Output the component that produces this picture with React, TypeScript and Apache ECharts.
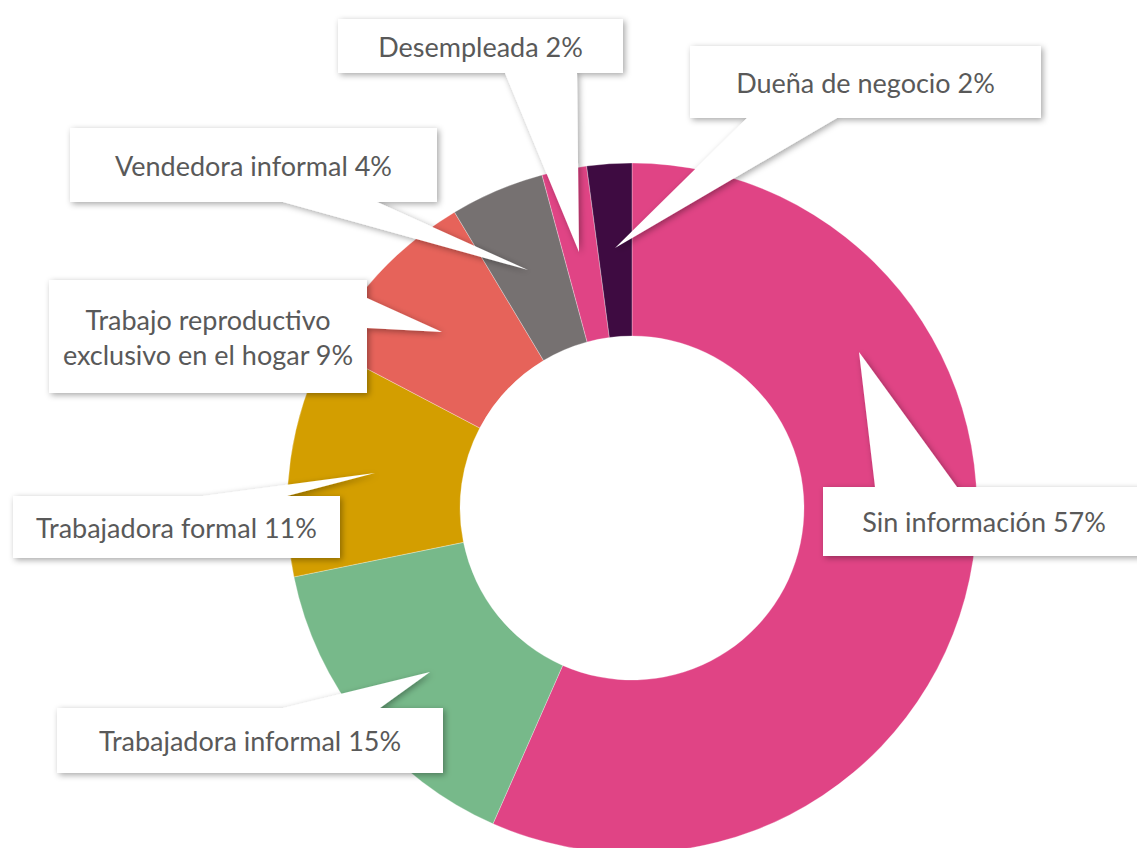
import React, { useEffect, useRef } from "react";
import * as echarts from "echarts";

// ---- data ----
const categories = [
  "Sin información",
  "Trabajadora informal",
  "Trabajadora formal",
  "Trabajo reproductivo exclusivo en el hogar",
  "Vendedora informal",
  "Desempleada",
  "Dueña de negocio",
];
const values = [56.6, 15.2, 10.9, 8.7, 4.4, 2.1, 2.1];
const colors = ["#E04485", "#77B98A", "#D39E00", "#E6635A", "#767171", "#E04485", "#3E0B41"];

// ---- callout layout (box, pointer base on one side, pointer tip) ----
type Callout = {
  x: number; y: number; w: number; h: number;
  side: "top" | "bottom" | "right";
  b1: number; b2: number;
  tip: [number, number];
  breakAfter?: string;
};
const callouts: Callout[] = [
  { x: 823, y: 487, w: 322, h: 69, side: "top", b1: 875, b2: 957, tip: [859, 352] },
  { x: 57, y: 708, w: 386, h: 65, side: "top", b1: 283, b2: 380, tip: [430, 672] },
  { x: 13, y: 496, w: 327, h: 62, side: "top", b1: 203, b2: 287, tip: [375, 473] },
  { x: 49, y: 280, w: 318, h: 113, side: "right", b1: 298, b2: 328, tip: [442, 332], breakAfter: "reproductivo" },
  { x: 70, y: 128, w: 367, h: 74, side: "bottom", b1: 283, b2: 377, tip: [528, 270] },
  { x: 338, y: 19, w: 285, h: 54, side: "bottom", b1: 505, b2: 577, tip: [579, 252] },
  { x: 690, y: 46, w: 351, h: 72, side: "bottom", b1: 747, b2: 837, tip: [615, 248] },
];

function calloutPoints(c: Callout): number[][] {
  const { x, y, w, h, b1, b2, tip } = c;
  if (c.side === "top") {
    return [[x, y], [b1, y], tip, [b2, y], [x + w, y], [x + w, y + h], [x, y + h]];
  }
  if (c.side === "bottom") {
    return [[x, y], [x + w, y], [x + w, y + h], [b2, y + h], tip, [b1, y + h], [x, y + h]];
  }
  return [[x, y], [x + w, y], [x + w, b1], tip, [x + w, b2], [x + w, y + h], [x, y + h]];
}

export default function App() {
  const ref = useRef<HTMLDivElement>(null);
  useEffect(() => {
    if (!ref.current) return;
    const chart = echarts.init(ref.current, undefined, { renderer: "svg" });
    const total = values.reduce((a, b) => a + b, 0);
    const font = "27px Lato, 'Noto Sans', sans-serif";

    const graphics: any[] = callouts.map((c, i) => {
      const pct = Math.round((values[i] / total) * 100);
      let name = categories[i];
      if (c.breakAfter) name = name.replace(c.breakAfter + " ", c.breakAfter + "\n");
      return {
        type: "group",
        z: 10,
        children: [
          {
            type: "polygon",
            z: 10,
            shape: { points: calloutPoints(c) },
            style: {
              fill: "#ffffff",
              shadowBlur: 6,
              shadowOffsetX: 2,
              shadowOffsetY: 2,
              shadowColor: "rgba(0,0,0,0.35)",
            },
          },
          {
            type: "text",
            z: 11,
            x: c.x + c.w / 2,
            y: c.y + c.h / 2,
            style: {
              text: `${name} ${pct}%`,
              fill: "#595959",
              font,
              align: "center",
              verticalAlign: "middle",
              lineHeight: 35,
            },
          },
        ],
      };
    });

    chart.setOption({
      animation: false,
      backgroundColor: "#ffffff",
      series: [
        {
          type: "pie",
          center: [632, 508],
          radius: [172, 345],
          startAngle: 90,
          clockwise: true,
          avoidLabelOverlap: false,
          label: { show: false },
          labelLine: { show: false },
          emphasis: { disabled: true },
          itemStyle: { borderColor: "#ffffff", borderWidth: 0.3 },
          data: categories.map((n, i) => ({
            name: n,
            value: values[i],
            itemStyle: { color: colors[i] },
          })),
        },
      ],
      graphic: graphics,
    });
    return () => chart.dispose();
  }, []);
  return (
    <div
      ref={ref}
      style={{ position: "absolute", left: 0, top: 0, width: 1137, height: 848 }}
    />
  );
}
